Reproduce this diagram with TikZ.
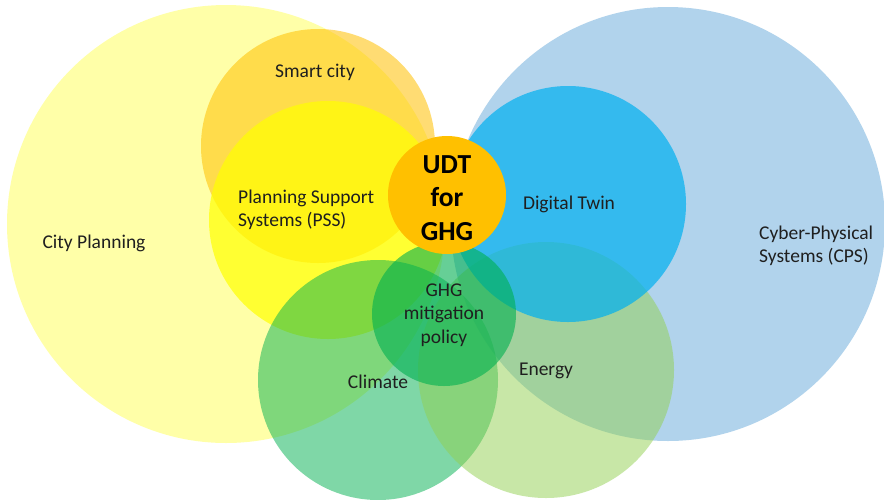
\documentclass[tikz,border=0pt]{standalone}
\usepackage{fontspec}
\setmainfont{Carlito}
\begin{document}
\begin{tikzpicture}[x=1pt,y=-1pt,
  lbl/.style={text=black!88, font=\fontsize{19.5}{23.5}\selectfont, inner sep=0pt}]
\definecolor{cplan}{HTML}{FFFFA8}
\definecolor{cps}{HTML}{B1D3EC}
\definecolor{smart}{HTML}{FFC000}
\definecolor{pss}{HTML}{FFFF00}
\definecolor{twin}{HTML}{00B0F0}
\definecolor{clim}{HTML}{00B050}
\definecolor{energy}{HTML}{92D050}
\definecolor{udt}{HTML}{FFC000}
\useasboundingbox (0,0) rectangle (884,499);
\clip (0,0) rectangle (884,499);
\fill[white] (0,0) rectangle (884,499);
% large background domains
\fill[cplan] (226,224) circle (219);
\fill[cps] (668,224) circle (217);
% planning side
\fill[smart, fill opacity=0.55] (318,146) circle (117);
\fill[pss, fill opacity=0.7] (328,220) circle (119);
% application domains
\fill[clim, fill opacity=0.5] (378,380) circle (120);
\fill[energy, fill opacity=0.5] (546,370) circle (128);
% digital side
\fill[twin, fill opacity=0.7] (568,204) circle (118);
% policy ring
\fill[clim, fill opacity=0.6] (444,314) circle (72);
% core
\fill[udt] (447,195) circle (59);
% labels
\node[lbl] (lcity) at (94,243) {City Planning};
\node[lbl] (lsmart) at (315,72) {Smart city};
\node[lbl, align=left, anchor=west] (lpss) at (238,210) {Planning Support\\Systems (PSS)};
\node[lbl] (ltwin) at (569,204) {Digital Twin};
\node[lbl, align=left, anchor=west] (lcps) at (759,246) {Cyber-Physical\\Systems (CPS)};
\node[lbl, align=center] (lghg) at (444,315) {GHG\\mitigation\\policy};
\node[lbl] (lclim) at (378,382) {Climate};
\node[lbl] (lenergy) at (546,371) {Energy};
\node[lbl, font=\fontsize{27.5}{33.5}\selectfont\bfseries, align=center, text=black] (ludt) at (447,198) {UDT\\for\\GHG};
\end{tikzpicture}
\end{document}
